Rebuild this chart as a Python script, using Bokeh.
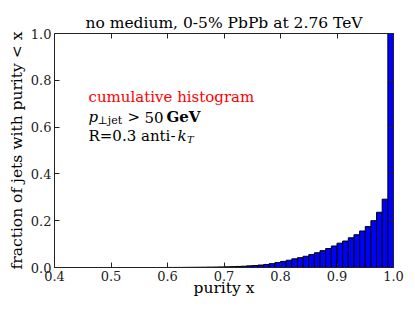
import numpy as np
from bokeh.plotting import figure
from bokeh.models import Label, LinearAxis, FixedTicker, NumeralTickFormatter, Range1d
from bokeh.embed import file_html
from bokeh.resources import INLINE

# bin edges of the purity histogram (width 0.01 from 0.4 to 1.0)
bin_edges = np.linspace(0.4, 1.0, 61)
# cumulative fraction of jets with purity < x, one value per bin
cum_fraction = [
    0, 0, 0, 0, 0, 0, 0, 0, 0, 0,
    0, 0, 0, 0, 0, 0, 0, 0, 0, 0,
    0.0003, 0.0004, 0.0005, 0.0007, 0.0009, 0.0011, 0.0014, 0.0017, 0.002, 0.0025,
    0.003, 0.0037, 0.0045, 0.0055, 0.007, 0.0085, 0.0105, 0.013, 0.0165, 0.021,
    0.026, 0.031, 0.037, 0.042, 0.048, 0.055, 0.063, 0.072, 0.081, 0.092,
    0.104, 0.113, 0.127, 0.140, 0.156, 0.175, 0.200, 0.236, 0.292, 1.0,
]
x_ticks = [0.4, 0.5, 0.6, 0.7, 0.8, 0.9, 1.0]
y_ticks = [0.0, 0.2, 0.4, 0.6, 0.8, 1.0]

FONT = "DejaVu Serif"

p = figure(
    frame_width=339, frame_height=234,
    min_border_left=54, min_border_right=22, min_border_top=33, min_border_bottom=45,
    x_range=Range1d(0.4, 1.0), y_range=Range1d(0.0, 1.0),
    output_backend="svg", toolbar_location=None,
    title="no medium, 0-5% PbPb at 2.76 TeV",
    x_axis_location=None, y_axis_location=None,
)
p.outline_line_color = None
p.xgrid.visible = False
p.ygrid.visible = False
p.background_fill_color = "white"
p.border_fill_color = "white"

p.title.align = "center"
p.title.text_font = FONT
p.title.text_font_size = "15.5px"
p.title.text_font_style = "normal"
p.title.text_color = "black"
p.title.standoff = 3

p.quad(left=bin_edges[:-1], right=bin_edges[1:], bottom=0, top=cum_fraction,
       fill_color="#0000ff", line_color="black", line_width=1)


def make_axis(ticks, show_labels, label=None, standoff=0):
    ax = LinearAxis(ticker=FixedTicker(ticks=ticks),
                    formatter=NumeralTickFormatter(format="0.0"))
    ax.axis_line_color = "#222222"
    ax.axis_line_width = 1
    ax.major_tick_in = 5
    ax.major_tick_out = 0
    ax.major_tick_line_color = "#222222"
    ax.minor_tick_line_color = None
    if show_labels:
        ax.major_label_text_font = FONT
        ax.major_label_text_font_size = "13px"
        ax.major_label_text_color = "#222222"
        ax.major_label_standoff = 3
        ax.axis_label = label
        ax.axis_label_text_font = FONT
        ax.axis_label_text_font_size = "15.5px"
        ax.axis_label_text_font_style = "normal"
        ax.axis_label_text_color = "black"
        ax.axis_label_standoff = standoff
    else:
        ax.major_label_overrides = {t: "" for t in ticks}
        ax.major_label_text_font_size = "1px"
        ax.major_label_standoff = 0
        ax.axis_label = None
    return ax


p.add_layout(make_axis(x_ticks, True, "purity x", -5), "below")
p.add_layout(make_axis(y_ticks, True, "fraction of jets with purity < x", 2), "left")
p.add_layout(make_axis(x_ticks, False), "above")
p.add_layout(make_axis(y_ticks, False), "right")


# page pixel -> data coordinates (frame spans px 54..393, py 33..267)
def dx(px):
    return 0.4 + (px - 54) * 0.6 / 339


def dy(py):
    return (267 - py) / 234


def lab(text, px, py, size="15px", color="black", style="normal"):
    p.add_layout(Label(x=dx(px), y=dy(py), text=text, text_font=FONT,
                       text_font_size=size, text_color=color, text_font_style=style,
                       text_align="left", text_baseline="alphabetic"))


# annotations inside the frame
lab("cumulative histogram", 88, 96, color="#ff0000")
lab("p", 88, 116.7, style="italic")
lab("⊥jet", 97, 119.5, size="11px")
lab(">", 127, 116.7)
lab("50", 144, 116.7)
lab("GeV", 166, 116.7, style="bold")
lab("R=0.3 anti-", 88, 135.7)
lab("k", 177, 135.7, style="italic")
lab("T", 186.5, 138.5, size="10px", style="italic")

open("out.html", "w").write(file_html(p, INLINE))
